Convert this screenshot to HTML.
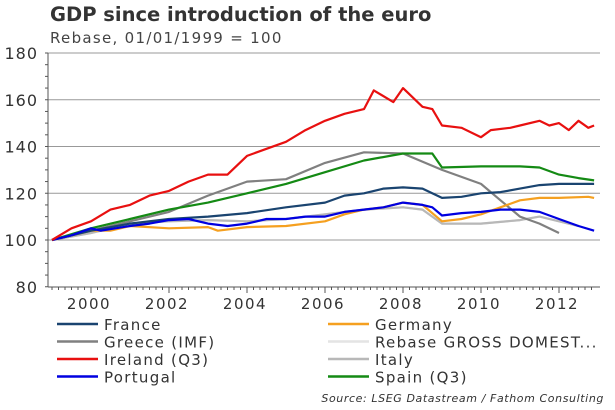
<!DOCTYPE html>
<html><head><meta charset="utf-8"><style>
body{margin:0;background:#fff;font-family:Verdana,"DejaVu Sans",sans-serif;}
svg{display:block}
</style></head><body>
<svg id="chart" width="615" height="410" xmlns="http://www.w3.org/2000/svg">
<text x="50" y="21" font-size="19.5" font-weight="bold" fill="#333" letter-spacing="0" font-family="'DejaVu Sans',sans-serif">GDP since introduction of the euro</text>
<text x="50" y="43" font-size="15" fill="#444" letter-spacing="1.3" font-family="'DejaVu Sans',sans-serif">Rebase, 01/01/1999 = 100</text>
<g id="grid"></g><g id="axes"></g><g id="series"></g><g id="legend"></g>
<text x="604" y="402" font-size="11" font-style="italic" fill="#333" letter-spacing="0.6" text-anchor="end" font-family="'DejaVu Sans',sans-serif">Source: LSEG Datastream / Fathom Consulting</text>
</svg>
<script>
const yTicks=[80,100,120,140,160,180];
const xTickYears=[2000,2002,2004,2006,2008,2010,2012];
const seriesNames=["France","Germany","Greece (IMF)","Rebase GROSS DOMEST...","Ireland (Q3)","Italy","Portugal","Spain (Q3)"];
const franceX=[1999,2000,2001,2002,2003,2004,2005,2006,2006.5,2007,2007.5,2008,2008.5,2009,2009.5,2010,2010.5,2011,2011.5,2012,2012.9];
const franceY=[100,104,107,109,110,111.5,114,116,119,120,122,122.5,122,118,118.5,120,120.5,122,123.5,124,124];
const germanyX=[1999,2000,2000.5,2001,2002,2003,2003.25,2004,2005,2006,2006.5,2007,2007.5,2008,2008.5,2009,2009.5,2010,2010.5,2011,2011.5,2012,2012.75,2012.9];
const germanyY=[100,104,104,106,105,105.5,104,105.5,106,108,111,113,114,116,115,108,109,111,114,117,118,118,118.5,118];
const greeceX=[1999,2000,2001,2002,2003,2004,2005,2006,2007,2008,2009,2010,2010.5,2011,2011.5,2012];
const greeceY=[100,104,108,112,119,125,126,133,137.5,137,130,124,117,110,107,103];
const rebaseX=[1999,2000,2001,2002,2003,2004,2005,2006,2007,2008,2008.5,2009,2010,2011,2011.5,2012,2012.5];
const rebaseY=[100,103,107,108,108.5,108,109,111,113,114,113,107,107,108.5,110,108,106];
const irelandX=[1999,1999.5,2000,2000.5,2001,2001.5,2002,2002.5,2003,2003.5,2004,2004.5,2005,2005.5,2006,2006.5,2007,2007.25,2007.75,2008,2008.5,2008.75,2009,2009.5,2010,2010.25,2010.75,2011,2011.5,2011.75,2012,2012.25,2012.5,2012.75,2012.9];
const irelandY=[100,105,108,113,115,119,121,125,128,128,136,139,142,147,151,154,156,164,159,165,157,156,149,148,144,147,148,149,151,149,150,147,151,148,149];
const italyX=[1999,2000,2001,2002,2003,2004,2005,2006,2007,2008,2008.5,2009,2010,2011,2011.5,2012,2012.5];
const italyY=[100,103,107,108,108.5,108,109,111,113,114,113,107,107,108.5,110,108,106];
const portugalX=[1999,1999.5,2000,2000.25,2001,2001.5,2002,2002.5,2003,2003.5,2004,2004.5,2005,2005.5,2006,2006.5,2007,2007.5,2008,2008.5,2008.75,2009,2009.5,2010,2010.5,2011,2011.5,2012,2012.5,2012.9];
const portugalY=[100,102,105,104,106,107,108.5,109,107,106,107,109,109,110,110,112,113,114,116,115,114,110.5,111.5,112,113,113,112,109,106,104];
const spainX=[1999,2000,2001,2002,2003,2004,2005,2006,2007,2008,2008.75,2009,2010,2011,2011.5,2012,2012.5,2012.9];
const spainY=[100,105,109,113,116,120,124,129,134,137,137,131,131.5,131.5,131,128,126.5,125.5];

const NS="http://www.w3.org/2000/svg";
const X0=48,X1=600,Y0=53,Y1=287;
function xs(y){return 52+(y-1999)*39;}
function ys(v){return 240-(v-100)*(46.75/20);}
function mk(t,a,p){const e=document.createElementNS(NS,t);for(const k in a)e.setAttribute(k,a[k]);p.appendChild(e);return e;}
const grid=document.getElementById('grid'),axes=document.getElementById('axes'),ser=document.getElementById('series'),leg=document.getElementById('legend');
yTicks.forEach(v=>{
  if(v>80){const l=mk('line',{x1:X0,x2:X1,y1:ys(v),y2:ys(v),stroke:'#999','stroke-width':1},grid);
  
  }
  const t=mk('text',{x:38,y:ys(v)+6,'font-size':16,fill:'#333','text-anchor':'end','letter-spacing':1},axes);t.textContent=v;
  
  
});
for(let v=80;v<=180;v+=5){mk('line',{x1:X0-3,x2:X0,y1:ys(v),y2:ys(v),stroke:'#555'},axes);}
const ya=mk('line',{x1:X0,x2:X0,y1:Y0,y2:Y1,stroke:'#555'},axes);


const xa=mk('line',{x1:X0,x2:X1,y1:Y1,y2:Y1,stroke:'#555'},axes);


for(let y=1999;y<=2013;y+=1/6){const x=xs(y);if(x>X1)break;mk('line',{x1:x,x2:x,y1:Y1,y2:Y1+3,stroke:'#555'},axes);}
xTickYears.forEach(y=>{mk('line',{x1:xs(y),x2:xs(y),y1:Y1,y2:Y1+6,stroke:'#555'},axes);
  const t=mk('text',{x:xs(y)-2,y:309,'font-size':15,fill:'#333','text-anchor':'middle','letter-spacing':1.5},axes);t.textContent=y;
  
  });
const defs=[["rebase",rebaseX,rebaseY,"#e4e4e4"],["italy",italyX,italyY,"#b8b8b8"],["greece",greeceX,greeceY,"#808080"],["germany",germanyX,germanyY,"#f5a020"],["france",franceX,franceY,"#1a4470"],["spain",spainX,spainY,"#148a14"],["portugal",portugalX,portugalY,"#0000e0"],["ireland",irelandX,irelandY,"#e81010"]];
defs.forEach(d=>{const pts=d[1].map((x,i)=>xs(x).toFixed(1)+','+ys(d[2][i]).toFixed(1)).join(' ');
  const p=mk('polyline',{points:pts,fill:'none',stroke:d[3],'stroke-width':2.2,'stroke-linejoin':'round'},ser);
  
  });
const colors=["#1a4470","#f5a020","#808080","#e4e4e4","#e81010","#b8b8b8","#0000e0","#148a14"];
seriesNames.forEach((n,i)=>{const col=i%2,row=Math.floor(i/2);const lx=col?328:57,ly=330+row*17.5;
  const g=mk('g',{},leg);
  
  
  mk('line',{x1:lx,x2:lx+41,y1:ly-6,y2:ly-6,stroke:colors[i],'stroke-width':2.5},g);
  const t=mk('text',{x:lx+47,y:ly,'font-size':15,fill:'#333','letter-spacing':1.3},g);t.textContent=n;});
</script>
</body></html>
